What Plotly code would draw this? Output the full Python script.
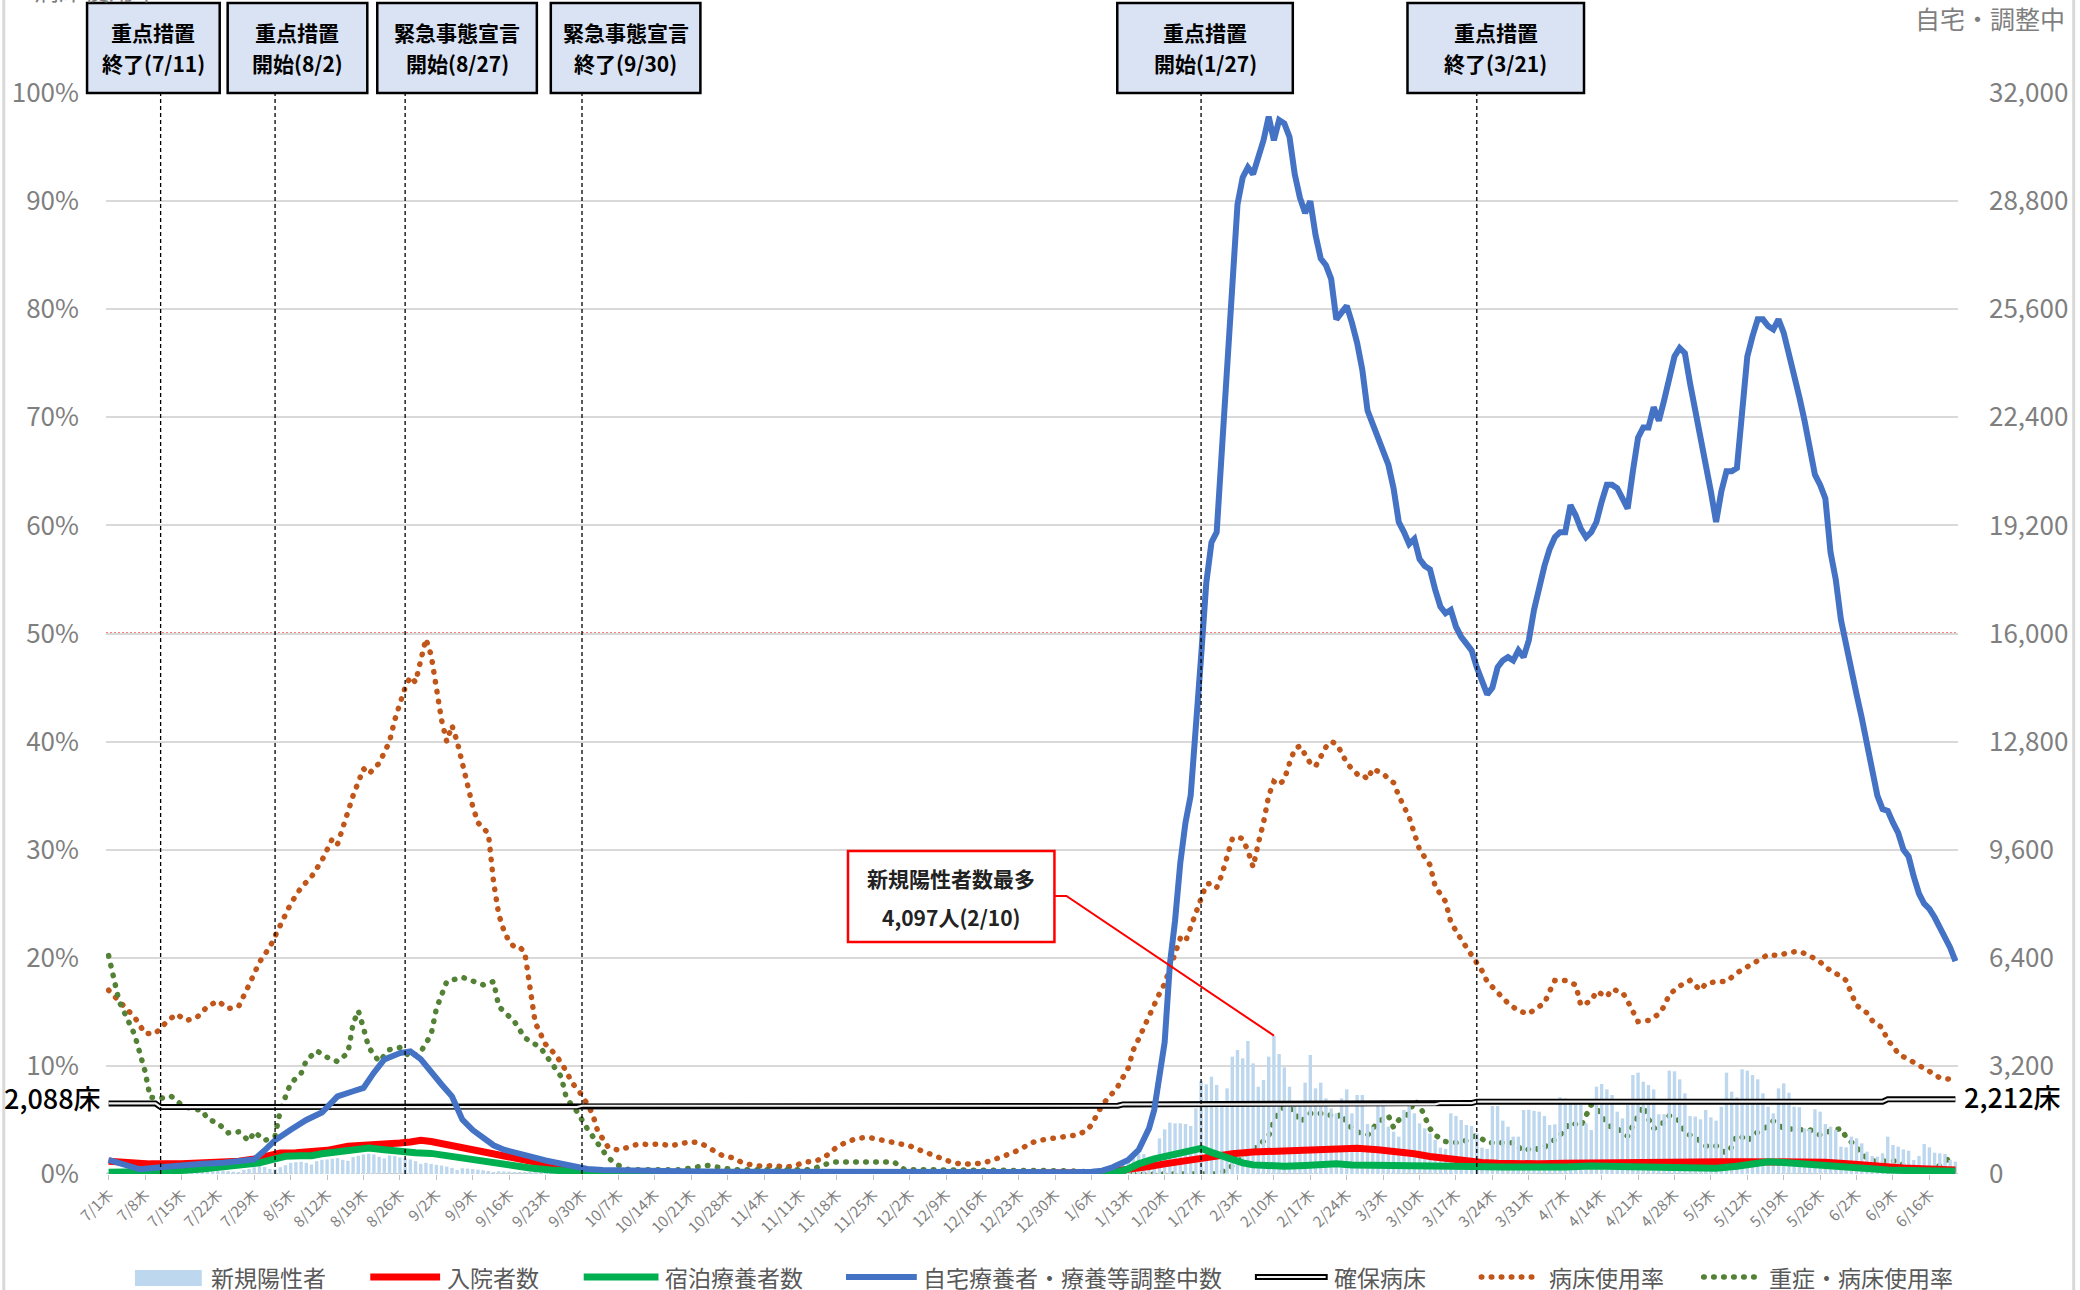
import pandas as pd
import plotly.graph_objects as go

START = pd.Timestamp("2021-07-01")

# 新規陽性者 (daily counts, one list per month)
new_jul = [35, 40, 30, 28, 18, 32, 45, 40, 45, 42, 35, 22, 50, 55, 60, 65, 55, 45, 35, 70,
           80, 90, 100, 85, 70, 60, 120, 150, 200, 230, 210]
new_aug = [150, 140, 200, 260, 330, 350, 360, 330, 280, 380, 420, 430, 450, 470, 420, 390,
           500, 540, 580, 600, 580, 510, 460, 550, 530, 490, 470, 430, 380, 300, 330]
new_sep = [300, 270, 250, 220, 180, 120, 170, 160, 150, 130, 110, 90, 60, 80, 75, 70, 60, 50,
           40, 30, 40, 35, 30, 30, 25, 20, 12, 20, 20, 18]
new_oct = [20, 18, 15, 10, 12, 15, 14, 12, 10, 8, 6, 10, 9, 8, 7, 8, 6, 5, 4, 7, 6, 8, 5, 4,
           5, 3, 6, 5, 4, 6, 5]
new_nov = [3, 4, 6, 5, 4, 3, 2, 5, 6, 7, 5, 4, 8, 9, 10, 12, 11, 9, 14, 15, 18, 16, 14, 12,
           10, 13, 11, 9, 8, 7]
new_dec = [6, 8, 7, 5, 4, 6, 8, 7, 6, 5, 4, 7, 6, 5, 4, 3, 5, 6, 7, 6, 5, 8, 9, 10, 12, 9,
           11, 14, 12, 10, 15]
new_jan = [20, 25, 30, 35, 45, 40, 60, 80, 100, 120, 170, 330, 400, 520, 590, 590, 510, 500,
           1056, 1320, 1520, 1500, 1500, 1480, 1420, 1944, 2753, 2654, 2880, 2634, 2141]
new_feb = [2536, 3474, 3671, 3424, 3937, 3276, 2585, 2783, 3474, 4097, 3552, 3158, 2585, 2141,
           2141, 2704, 3523, 2536, 2704, 2240, 1944, 1796, 2240, 2506, 1796, 2339, 2339, 1480]
new_mar = [1401, 2092, 2190, 1401, 1253, 1105, 1895, 2043, 1796, 1500, 1352, 1204, 1007, 780,
           740, 1796, 1717, 1599, 1450, 1421, 1204, 780, 740, 2013, 2013, 1579, 1400, 1105,
           1105, 1895, 1900]
new_apr = [1870, 1845, 1717, 1450, 1470, 2270, 2240, 2072, 2141, 2043, 1500, 1303, 2585, 2664,
           2506, 2339, 1845, 1648, 2043, 2931, 3000, 2733, 2634, 2506, 1766, 1770, 3059, 3040,
           2802, 2388]
new_may = [1717, 1700, 1618, 1895, 1677, 1579, 1993, 3000, 2437, 2270, 3099, 3059, 2931, 2802,
           2388, 1993, 1796, 2536, 2684, 2407, 1993, 1980, 1352, 1330, 1914, 1845, 1480, 1401,
           1303, 809, 789]
new_jun = [1105, 1056, 908, 661, 533, 513, 612, 1105, 858, 809, 730, 690, 414, 533, 888, 789,
           631, 612, 592, 414, 365]

# line series: (days after 7/1, value)
hospital = [(0, 375), (4, 320), (8, 300), (14, 300), (20, 320), (25, 380), (28, 444), (33, 620),
            (36, 630), (39, 640), (42, 700), (46, 820), (51, 850), (56, 918), (58, 950), (60, 997),
            (62, 960), (64, 900), (66, 820), (68, 760), (71, 640), (73, 600), (76, 523), (79, 450),
            (81, 375), (84, 280), (87, 200), (90, 130), (93, 90), (97, 50), (105, 40), (120, 35),
            (140, 30), (160, 30), (190, 30), (193, 80), (197, 140), (200, 220), (203, 300),
            (206, 380), (210, 470), (213, 540), (216, 600), (220, 650), (224, 680), (229, 700),
            (234, 730), (240, 760), (244, 720), (248, 670), (251, 600), (254, 520), (258, 440),
            (261, 390), (264, 340), (267, 320), (270, 300), (275, 300), (280, 320), (285, 335),
            (290, 340), (295, 330), (300, 350), (305, 365), (310, 360), (315, 365), (320, 370),
            (325, 365), (330, 350), (335, 300), (340, 230), (345, 180), (350, 150), (355, 120)]

hotel = [(0, 50), (7, 50), (12, 80), (18, 150), (22, 207), (26, 280), (29, 330), (32, 450),
         (34, 523), (37, 540), (39, 543), (41, 600), (44, 671), (47, 720), (50, 770), (53, 720),
         (56, 650), (59, 630), (62, 610), (66, 520), (69, 425), (73, 330), (77, 247), (81, 180),
         (85, 120), (89, 70), (92, 50), (97, 30), (110, 20), (150, 15), (185, 15), (191, 20),
         (194, 60), (196, 150), (198, 300), (201, 450), (203, 510), (206, 610), (208, 700),
         (210, 760), (212, 640), (214, 520), (216, 420), (218, 330), (220, 270), (222, 240),
         (226, 230), (230, 250), (234, 290), (236, 300), (239, 270), (245, 245), (250, 240),
         (256, 230), (262, 220), (268, 210), (274, 200), (280, 210), (285, 240), (290, 220),
         (295, 230), (300, 230), (305, 200), (309, 170), (313, 230), (316, 320), (319, 365),
         (322, 340), (326, 290), (330, 260), (334, 220), (338, 160), (342, 120), (346, 100),
         (350, 90), (355, 80)]

home = [(0, 420), (3, 260), (6, 140), (10, 200), (14, 260), (18, 306), (22, 330), (26, 400),
        (28, 430), (30, 700), (32, 1000), (35, 1310), (38, 1600), (41, 1820), (44, 2300),
        (47, 2450), (49, 2550), (51, 3000), (53, 3390), (56, 3580), (58, 3630), (60, 3400),
        (62, 3000), (64, 2650), (66, 2300), (68, 1610), (70, 1300), (72, 1050), (74, 850),
        (76, 720), (79, 620), (81, 520), (84, 400), (88, 276), (92, 150), (95, 120), (100, 100),
        (110, 80), (120, 70), (135, 60), (150, 55), (170, 50), (185, 55), (189, 70), (191, 100),
        (193, 200), (196, 415), (198, 710), (200, 1350), (201, 1900), (202, 2900), (203, 3900),
        (204, 6200), (205, 7500), (206, 9200), (207, 10400), (208, 11200), (209, 13000),
        (210, 15300), (211, 17500), (212, 18700), (213, 19000), (214, 21500), (215, 24000),
        (216, 26500), (217, 28700), (218, 29500), (219, 29800), (220, 29600), (221, 30100),
        (222, 30600), (223, 31300), (224, 30600), (225, 31200), (226, 31100), (227, 30700),
        (228, 29600), (229, 28900), (230, 28450), (231, 28800), (232, 27800), (233, 27100),
        (234, 26900), (235, 26500), (236, 25300), (237, 25500), (238, 25700), (239, 25200),
        (240, 24600), (241, 23800), (242, 22600), (243, 22200), (244, 21800), (245, 21500),
        (246, 21000), (247, 20300), (248, 19300), (249, 19000), (250, 18650), (251, 18800),
        (252, 18200), (253, 18000), (254, 17900), (255, 17300), (256, 16800), (257, 16600),
        (258, 16700), (259, 16200), (260, 15900), (261, 15700), (262, 15500), (263, 15000),
        (264, 14650), (265, 14200), (266, 14400), (267, 15000), (268, 15200), (269, 15300),
        (270, 15200), (271, 15500), (272, 15300), (273, 15800), (274, 16700), (275, 17400),
        (276, 18000), (277, 18500), (278, 18850), (279, 19000), (280, 19000), (281, 19800),
        (282, 19500), (283, 19100), (284, 18850), (285, 19000), (286, 19300), (287, 19900),
        (288, 20400), (289, 20400), (290, 20300), (291, 20000), (292, 19700), (293, 20800),
        (294, 21800), (295, 22100), (296, 22100), (297, 22700), (298, 22300), (299, 22900),
        (300, 23600), (301, 24200), (302, 24450), (303, 24300), (304, 23400), (305, 22600),
        (306, 22000), (307, 21000), (308, 20200), (309, 19300), (310, 20200), (311, 20800),
        (312, 20800), (313, 20900), (314, 22800), (315, 24200), (316, 24800), (317, 25300),
        (318, 25300), (319, 25100), (320, 25000), (321, 25300), (322, 24900), (323, 24300),
        (324, 23600), (325, 23000), (326, 22300), (327, 21400), (328, 20700), (329, 20400),
        (330, 20000), (331, 18400), (332, 17600), (333, 16400), (334, 15600), (335, 14900),
        (336, 14200), (337, 13500), (338, 12750), (339, 12000), (340, 11200), (341, 10800),
        (342, 10750), (343, 10400), (344, 10100), (345, 9600), (346, 9400), (347, 8800),
        (348, 8300), (349, 8000), (350, 7850), (351, 7600), (352, 7300), (353, 7070),
        (354, 6700), (355, 6300)]

beds = [(0, 2088), (9, 2088), (10, 1980), (90, 1980), (91, 2020), (194, 2020), (195, 2060),
        (255, 2060), (256, 2100), (262, 2100), (263, 2140), (341, 2140), (342, 2212), (355, 2212)]

bed_rate = [(0, 17.0), (2, 16.0), (5, 14.5), (7, 13.0), (9, 13.0), (11, 14.0), (13, 14.8),
            (15, 14.2), (17, 14.5), (19, 15.5), (21, 16.0), (23, 15.3), (25, 15.5), (27, 17.5),
            (29, 19.6), (31, 21.0), (33, 23.0), (35, 25.0), (37, 26.5), (39, 27.5), (41, 29.0),
            (43, 31.0), (44, 30.5), (45, 32.0), (47, 35.0), (49, 37.5), (50, 37.0), (52, 38.0),
            (54, 40.0), (55, 42.0), (57, 45.0), (58, 46.0), (59, 45.5), (60, 47.5), (61, 49.5),
            (62, 48.0), (63, 45.0), (64, 42.0), (65, 40.0), (66, 41.5), (67, 40.0), (68, 38.0),
            (69, 35.5), (70, 34.0), (71, 32.5), (72, 32.0), (73, 31.5), (74, 27.0), (75, 24.0),
            (76, 22.5), (77, 21.5), (78, 21.0), (79, 21.0), (80, 20.5), (81, 17.0), (82, 14.0),
            (83, 13.0), (84, 12.0), (86, 11.0), (88, 9.5), (89, 8.5), (91, 7.3), (93, 5.6),
            (94, 4.0), (96, 2.5), (98, 2.2), (100, 2.5), (102, 2.8), (104, 2.7), (106, 2.8),
            (108, 2.6), (110, 2.8), (112, 3.0), (114, 2.8), (116, 2.2), (118, 1.7), (120, 1.5),
            (122, 1.0), (124, 0.8), (126, 0.7), (128, 0.8), (130, 0.6), (132, 0.8), (134, 1.1),
            (136, 1.2), (138, 1.7), (140, 2.5), (142, 3.0), (144, 3.3), (146, 3.4), (148, 3.2),
            (150, 3.0), (152, 2.8), (154, 2.6), (156, 2.2), (158, 1.8), (160, 1.5), (162, 1.1),
            (164, 0.9), (166, 1.0), (168, 1.0), (170, 1.3), (172, 1.6), (174, 2.0), (176, 2.5),
            (178, 3.0), (180, 3.2), (182, 3.3), (184, 3.4), (186, 3.6), (188, 4.0), (189, 4.6),
            (190, 5.5), (191, 6.4), (193, 7.5), (194, 8.1), (196, 9.8), (197, 11.5), (198, 12.5),
            (199, 13.6), (200, 14.5), (201, 15.5), (202, 16.7), (203, 17.6), (204, 19.0),
            (205, 20.5), (206, 21.8), (207, 21.5), (208, 22.8), (209, 24.2), (210, 25.5),
            (211, 26.8), (212, 26.9), (213, 26.5), (214, 27.7), (215, 29.6), (216, 31.0),
            (217, 31.2), (218, 31.0), (219, 29.9), (220, 28.4), (221, 30.6), (222, 32.5),
            (223, 35.0), (224, 36.3), (225, 36.0), (226, 36.5), (227, 38.0), (228, 39.3),
            (229, 39.6), (230, 38.7), (231, 38.0), (232, 37.7), (233, 38.5), (234, 39.5),
            (235, 40.0), (236, 39.8), (237, 39.0), (238, 38.0), (239, 37.5), (240, 37.0),
            (241, 37.0), (242, 36.5), (243, 37.5), (245, 37.0), (247, 36.2), (248, 35.0),
            (250, 33.0), (251, 31.3), (252, 30.0), (254, 28.6), (255, 26.6), (257, 25.2),
            (258, 23.3), (260, 21.7), (262, 20.2), (264, 18.8), (265, 17.8), (267, 16.8),
            (269, 15.8), (271, 15.1), (273, 14.8), (274, 15.2), (276, 15.8), (277, 16.9),
            (278, 17.9), (280, 17.9), (282, 17.5), (283, 15.6), (285, 16.0), (286, 16.9),
            (288, 16.4), (289, 17.1), (291, 16.8), (292, 16.0), (293, 15.0), (294, 14.1),
            (296, 14.2), (298, 14.8), (299, 15.5), (300, 16.6), (302, 17.4), (304, 17.9),
            (306, 17.0), (307, 17.6), (309, 17.8), (311, 17.8), (313, 18.6), (315, 19.2),
            (317, 19.8), (319, 20.3), (321, 20.2), (323, 20.5), (325, 20.6), (327, 20.2),
            (329, 19.6), (331, 18.8), (333, 18.3), (334, 17.9), (335, 16.7), (336, 15.6),
            (338, 14.9), (339, 14.2), (341, 13.5), (342, 12.3), (343, 11.9), (344, 11.1),
            (346, 10.6), (348, 10.1), (350, 9.5), (352, 8.9), (355, 8.7)]

severe_rate = [(0, 20.2), (2, 16.0), (5, 12.9), (7, 9.5), (8, 7.1), (10, 7.0), (12, 7.2),
               (14, 6.4), (16, 6.0), (18, 5.9), (19, 5.1), (21, 4.7), (23, 3.8), (25, 3.9),
               (27, 3.05), (28, 3.9), (30, 3.1), (32, 3.5), (33, 5.9), (34, 7.0), (35, 8.4),
               (37, 9.3), (38, 10.5), (40, 11.4), (42, 10.8), (44, 10.4), (46, 11.2), (47, 13.9),
               (48, 15.1), (49, 13.5), (50, 11.7), (52, 10.4), (54, 11.5), (56, 11.7), (58, 10.8),
               (60, 11.3), (62, 12.9), (63, 15.3), (65, 17.8), (68, 18.2), (70, 17.8), (72, 17.5),
               (74, 17.8), (75, 15.5), (78, 14.1), (80, 12.6), (83, 11.7), (85, 10.4), (87, 9.0),
               (88, 7.0), (90, 5.8), (92, 4.2), (94, 2.8), (96, 1.5), (98, 0.8), (100, 0.4),
               (110, 0.4), (115, 0.8), (120, 0.4), (135, 0.4), (139, 1.1), (151, 1.1), (153, 0.4),
               (185, 0.3), (195, 0.0), (213, 0.0), (215, 0.4), (217, 1.2), (219, 1.9), (221, 2.6),
               (223, 3.5), (224, 5.0), (226, 6.3), (228, 5.8), (229, 4.8), (231, 5.6), (234, 5.6),
               (236, 5.2), (237, 5.6), (238, 4.6), (240, 3.9), (242, 3.6), (244, 4.8), (246, 5.4),
               (247, 4.3), (248, 5.0), (250, 5.6), (251, 6.8), (252, 6.4), (253, 5.3), (254, 4.2),
               (255, 3.6), (257, 3.0), (259, 2.9), (261, 3.1), (263, 3.6), (265, 2.9), (268, 2.9),
               (270, 2.9), (272, 2.1), (274, 2.5), (275, 2.2), (277, 2.8), (279, 3.6), (280, 4.1),
               (281, 4.8), (283, 4.4), (284, 5.4), (285, 6.4), (287, 5.6), (288, 4.5), (290, 4.2),
               (292, 3.5), (293, 4.5), (294, 5.5), (295, 6.3), (296, 5.1), (297, 4.2), (299, 4.8),
               (300, 5.4), (302, 4.9), (303, 3.8), (305, 3.4), (307, 2.6), (309, 2.6), (311, 1.9),
               (312, 2.5), (313, 3.6), (314, 3.4), (315, 3.0), (316, 3.6), (318, 4.1), (320, 4.9),
               (322, 4.2), (325, 4.1), (327, 4.1), (329, 3.6), (331, 4.0), (333, 4.2), (334, 3.4),
               (336, 2.5), (337, 1.8), (339, 1.2), (342, 1.2), (344, 1.2), (346, 0.4), (351, 0.4),
               (353, 1.2), (355, 1.7)]

tick_labels = ["7/1木", "7/8木", "7/15木", "7/22木", "7/29木", "8/5木", "8/12木", "8/19木",
               "8/26木", "9/2木", "9/9木", "9/16木", "9/23木", "9/30木", "10/7木", "10/14木",
               "10/21木", "10/28木", "11/4木", "11/11木", "11/18木", "11/25木", "12/2木",
               "12/9木", "12/16木", "12/23木", "12/30木", "1/6木", "1/13木", "1/20木", "1/27木",
               "2/3木", "2/10木", "2/17木", "2/24木", "3/3木", "3/10木", "3/17木", "3/24木",
               "3/31木", "4/7木", "4/14木", "4/21木", "4/28木", "5/5木", "5/12木", "5/19木",
               "5/26木", "6/2木", "6/9木", "6/16木"]
pct_ticks = list(range(0, 101, 10))
pct_labels = ["0%", "10%", "20%", "30%", "40%", "50%", "60%", "70%", "80%", "90%", "100%"]
count_ticks = list(range(0, 32001, 3200))

event_dates = ["2021-07-11", "2021-08-02", "2021-08-27", "2021-09-30", "2022-01-27", "2022-03-21"]
event_line1 = ["重点措置", "重点措置", "緊急事態宣言", "緊急事態宣言", "重点措置", "重点措置"]
event_line2 = ["終了(7/11)", "開始(8/2)", "開始(8/27)", "終了(9/30)", "開始(1/27)", "終了(3/21)"]

peak_date, peak_value = "2022-02-10", 4097

legend_names = ["新規陽性者", "入院者数", "宿泊療養者数", "自宅療養者・療養等調整中数",
                "確保病床", "病床使用率", "重症・病床使用率"]

# ---- layout helpers (pixel -> paper) ----
W, H = 2080, 1290
ML, MR, MT, MB = 104, 119, 93, 116
PW, PH = W - ML - MR, H - MT - MB


def px(x):
    return (x - ML) / PW


def py(y):
    return (H - MB - y) / PH


def unpack(pairs):
    return [START + pd.Timedelta(days=d) for d, _ in pairs], [v for _, v in pairs]


GRAY = "#7F7F7F"
DOTS = "0.5px,9.5px"
DOT_W = 5.5
FONT = "Noto Sans CJK JP"
C_RED, C_GREEN, C_BLUE = "#FF0000", "#00B050", "#4472C4"
C_BROWN, C_OLIVE = "#C0561A", "#538135"

new_cases = (new_jul + new_aug + new_sep + new_oct + new_nov + new_dec
             + new_jan + new_feb + new_mar + new_apr + new_may + new_jun)
dates = pd.date_range(START, periods=len(new_cases), freq="D")

fig = go.Figure()
fig.add_trace(go.Bar(x=dates, y=new_cases, yaxis="y2", marker=dict(color="#BDD7EE", line_width=0)))

bx, bv = unpack(beds)
fig.add_trace(go.Scatter(x=bx, y=bv, yaxis="y2", mode="lines", line=dict(color="#000000", width=6)))
fig.add_trace(go.Scatter(x=bx, y=bv, yaxis="y2", mode="lines", line=dict(color="#F2F2F2", width=2.2)))

for series, color, width in [(hospital, C_RED, 7), (hotel, C_GREEN, 7), (home, C_BLUE, 6)]:
    sx, sv = unpack(series)
    fig.add_trace(go.Scatter(x=sx, y=sv, yaxis="y2", mode="lines", line=dict(color=color, width=width)))

for series, color in [(bed_rate, C_BROWN), (severe_rate, C_OLIVE)]:
    sx, sv = unpack(series)
    fig.add_trace(go.Scatter(x=sx, y=sv, yaxis="y", mode="lines",
                             line=dict(color=color, width=DOT_W, dash=DOTS)))

shapes = []
annotations = []

# 50% line and dotted baseline
shapes.append(dict(type="line", xref="paper", yref="y", x0=0, x1=1, y0=50, y1=50, layer="below",
                   line=dict(color="#FF0000", width=2, dash="2px,2px")))
shapes.append(dict(type="line", xref="paper", yref="y", x0=0, x1=1, y0=0, y1=0, layer="below",
                   line=dict(color="#C8B48C", width=1.5, dash="2px,3px")))

# event lines and boxes
box_px = [(85, 218), (226, 366), (376, 536), (550, 700), (1118, 1294), (1409, 1586)]
for d, l1, l2, (a, b) in zip(event_dates, event_line1, event_line2, box_px):
    shapes.append(dict(type="line", xref="x", yref="paper", x0=d, x1=d, y0=0, y1=1, layer="above",
                       line=dict(color="#000000", width=1.3, dash="4px,3px")))
    shapes.append(dict(type="rect", xref="paper", yref="paper", x0=px(a), x1=px(b), y0=py(93), y1=py(3),
                       fillcolor="#DAE3F3", line=dict(color="#000000", width=2.5), layer="above"))
    for txt, yy in [(l1, 32), (l2, 63)]:
        annotations.append(dict(xref="paper", yref="paper", x=px((a + b) / 2), y=py(yy), text=f"<b>{txt}</b>",
                                showarrow=False, xanchor="center", yanchor="middle",
                                font=dict(size=21, color="#000000", family=FONT)))

# peak call-out
peak_x = (pd.Timestamp(peak_date) - START).days
end_x = (peak_x + 0.5) / len(new_cases)
end_y = peak_value / 32000
shapes.append(dict(type="rect", xref="paper", yref="paper", x0=px(848), x1=px(1055), y0=py(942), y1=py(851),
                   fillcolor="#FFFFFF", line=dict(color="#FF0000", width=2.5), layer="above"))
shapes.append(dict(type="path", xref="paper", yref="paper", layer="above",
                   path=f"M{px(1055)},{py(896)} L{px(1067)},{py(896)} L{end_x},{end_y}",
                   line=dict(color="#FF0000", width=2)))
for txt, yy in [("新規陽性者数最多", 878), (f"{peak_value:,}人(2/10)", 917)]:
    annotations.append(dict(xref="paper", yref="paper", x=px(951.5), y=py(yy), text=f"<b>{txt}</b>",
                            showarrow=False, xanchor="center", yanchor="middle",
                            font=dict(size=21, color="#222222", family=FONT)))

# bed labels
annotations.append(dict(xref="paper", yref="paper", x=px(101), y=py(1097), text=f"{beds[0][1]:,}床",
                        showarrow=False, xanchor="right", yanchor="middle",
                        font=dict(size=27, color="#000000", family=FONT, weight=500)))
annotations.append(dict(xref="paper", yref="paper", x=px(1965), y=py(1096), text=f"{beds[-1][1]:,}床",
                        showarrow=False, xanchor="left", yanchor="middle",
                        font=dict(size=27, color="#000000", family=FONT, weight=500)))

# axis titles
annotations.append(dict(xref="paper", yref="paper", x=px(2070), y=py(18), text="自宅・調整中",
                        showarrow=False, xanchor="right", yanchor="middle",
                        font=dict(size=25, color=GRAY, family=FONT)))
annotations.append(dict(xref="paper", yref="paper", x=px(30), y=py(-11), text="病床使用率",
                        showarrow=False, xanchor="left", yanchor="middle",
                        font=dict(size=25, color=GRAY, family=FONT)))
annotations.append(dict(xref="paper", yref="paper", x=px(2042), y=py(1279), text="<b>20</b>",
                        showarrow=False, xanchor="center", yanchor="top",
                        font=dict(size=34, color="#000000", family=FONT)))

# page border
for xx in (1.5, 2077):
    shapes.append(dict(type="line", xref="paper", yref="paper", x0=px(xx), x1=px(xx), y0=py(H), y1=py(0),
                       line=dict(color="#D9D9D9", width=3)))

# legend (drawn by hand to match the original symbols)
ly = py(1277)
leg_sym = [(133, 200), (369, 439), (583, 658), (846, 917), (1256, 1329), (1483, 1541), (1706, 1763)]
leg_txt = [207, 444, 663, 921, 1333, 1549, 1769]
shapes.append(dict(type="rect", xref="paper", yref="paper", x0=px(133), x1=px(200), y0=py(1286), y1=py(1270),
                   fillcolor="#BDD7EE", line_width=0))
for (a, b), color, width in zip(leg_sym[1:4], [C_RED, C_GREEN, C_BLUE], [7, 7, 6]):
    shapes.append(dict(type="line", xref="paper", yref="paper", x0=px(a), x1=px(b), y0=ly, y1=ly,
                       line=dict(color=color, width=width)))
a, b = leg_sym[4]
shapes.append(dict(type="line", xref="paper", yref="paper", x0=px(a), x1=px(b), y0=ly, y1=ly,
                   line=dict(color="#000000", width=6)))
shapes.append(dict(type="line", xref="paper", yref="paper", x0=px(a + 2), x1=px(b - 2), y0=ly, y1=ly,
                   line=dict(color="#F2F2F2", width=2.2)))
for (a, b), color in zip(leg_sym[5:], [C_BROWN, C_OLIVE]):
    shapes.append(dict(type="line", xref="paper", yref="paper", x0=px(a), x1=px(b), y0=ly, y1=ly,
                       line=dict(color=color, width=DOT_W, dash=DOTS)))
for name, tx in zip(legend_names, leg_txt):
    annotations.append(dict(xref="paper", yref="paper", x=px(tx), y=ly, text=name, showarrow=False,
                            xanchor="left", yanchor="middle", font=dict(size=23, color="#595959", family=FONT)))

tick_dates = pd.date_range(START, periods=len(tick_labels), freq="7D")

fig.update_layout(
    width=W, height=H,
    margin=dict(l=ML, r=MR, t=MT, b=MB),
    paper_bgcolor="#FFFFFF", plot_bgcolor="#FFFFFF",
    showlegend=False, bargap=0.35, hovermode=False,
    font=dict(family=FONT, color=GRAY),
    shapes=shapes, annotations=annotations,
    xaxis=dict(type="date", range=[START - pd.Timedelta(hours=12), dates[-1] + pd.Timedelta(hours=12)],
               tickvals=tick_dates, ticktext=tick_labels, tickangle=-45,
               tickfont=dict(size=15, color=GRAY), ticks="outside", ticklen=5, tickcolor="#BFBFBF",
               showgrid=False, zeroline=False, showline=False),
    yaxis=dict(range=[0, 100], tickvals=pct_ticks, ticktext=pct_labels,
               tickfont=dict(size=26, color=GRAY), gridcolor="#D9D9D9", gridwidth=2,
               zeroline=False, ticklabelstandoff=26),
    yaxis2=dict(overlaying="y", side="right", range=[0, 32000], tickvals=count_ticks,
                tickformat=",", tickfont=dict(size=26, color=GRAY), showgrid=False, zeroline=False,
                ticklabelstandoff=30),
)

# round caps turn the short dashes into the round dots of the original
post_js = """
document.body.style.margin = '0';
var css = document.createElement('style');
css.textContent = 'path[style*="9.5px"] { stroke-linecap: round !important; }';
document.head.appendChild(css);
"""

fig.write_html("out.html", config={"displayModeBar": False}, post_script=post_js)
